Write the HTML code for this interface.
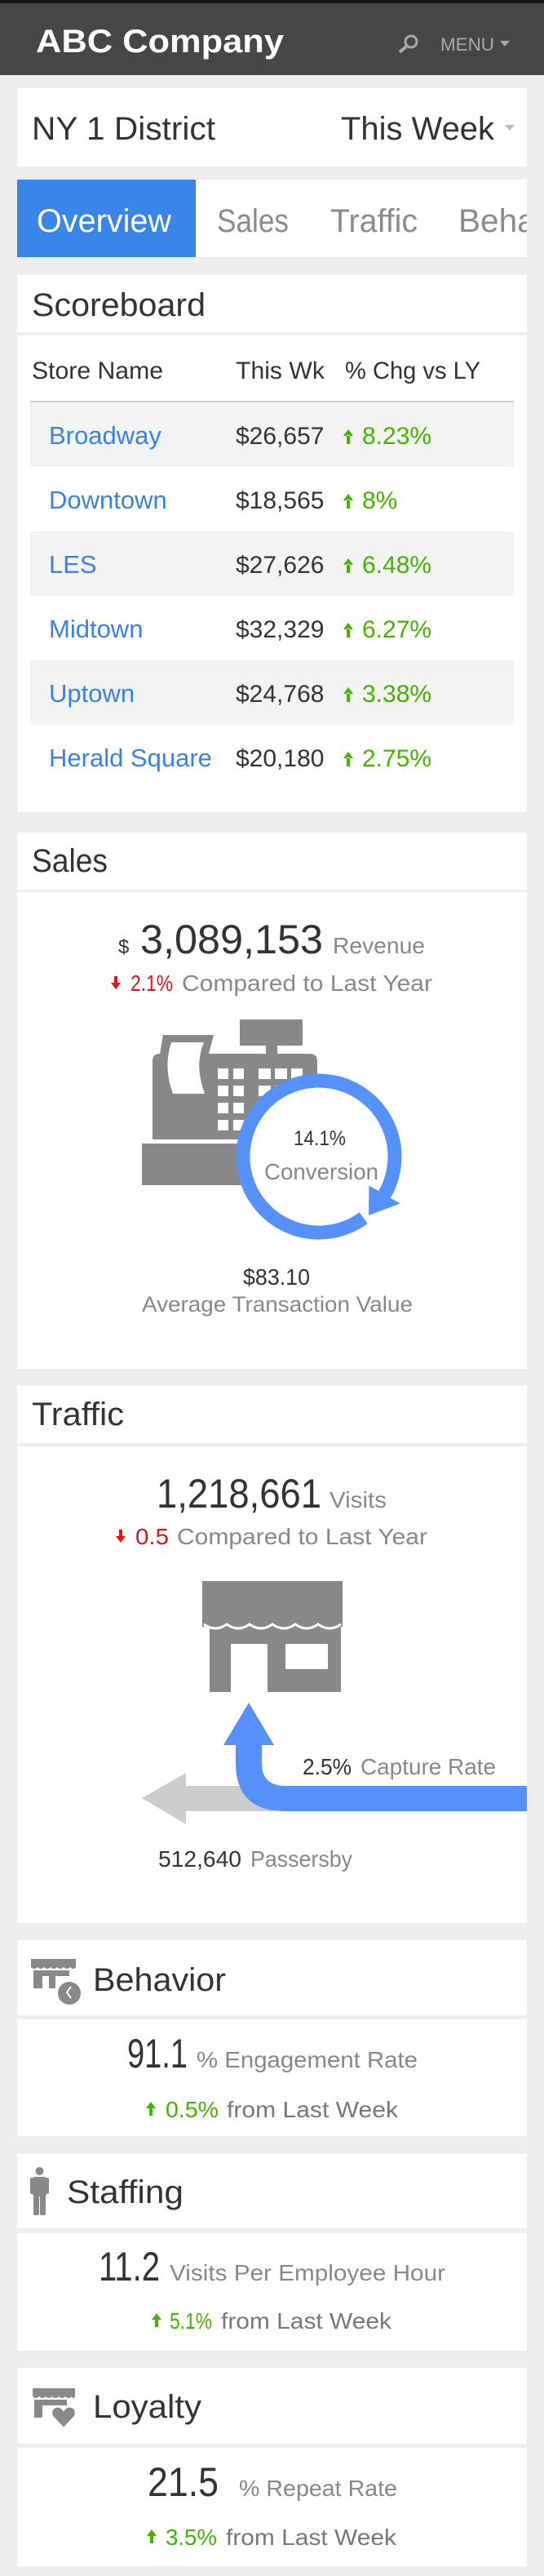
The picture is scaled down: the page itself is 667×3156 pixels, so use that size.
<!DOCTYPE html>
<html><head><meta charset="utf-8"><style>
html,body{margin:0;padding:0;background:#eeeeee;width:667px;height:3156px;overflow:hidden}
svg{display:block}
text{font-family:"Liberation Sans",sans-serif}
</style></head><body>
<svg width="667" height="3156" viewBox="0 0 667 3156" xmlns="http://www.w3.org/2000/svg">
<rect x="0" y="0" width="667" height="3156" fill="#eeeeee"/>
<g>
<rect x="0" y="0" width="667" height="92" fill="#464646"/>
<rect x="0" y="0" width="667" height="4" fill="#151515"/>
<text x="44" y="64" font-size="40" font-weight="bold" fill="#fff" textLength="304" lengthAdjust="spacingAndGlyphs">ABC Company</text>
<g><circle cx="504" cy="51" r="7" fill="none" stroke="#aaa" stroke-width="3"/><line x1="498" y1="57" x2="490" y2="64" stroke="#aaa" stroke-width="4"/></g>
<text x="540" y="62" font-size="22" fill="#aaa" textLength="66" lengthAdjust="spacingAndGlyphs">MENU</text>
<polygon points="613,50 625,50 619,57" fill="#aaa"/>
</g>
<rect x="21" y="108" width="625" height="96" fill="#fff"/>
<text x="39" y="171" font-size="40" fill="#333" textLength="225" lengthAdjust="spacingAndGlyphs">NY 1 District</text>
<text x="418" y="171" font-size="40" fill="#333" textLength="188" lengthAdjust="spacingAndGlyphs">This Week</text>
<polygon points="619,153 631,153 625,160" fill="#bbb"/>
<g>
<rect x="21" y="220" width="625" height="95" fill="#fff"/>
<rect x="21" y="220" width="219" height="95" fill="#3a85e8"/>
<text x="45" y="284" font-size="40" fill="#fff" textLength="165" lengthAdjust="spacingAndGlyphs">Overview</text>
<text x="266" y="284" font-size="40" fill="#8a8a8a" textLength="88" lengthAdjust="spacingAndGlyphs">Sales</text>
<text x="405" y="284" font-size="40" fill="#8a8a8a" textLength="107" lengthAdjust="spacingAndGlyphs">Traffic</text>
<svg x="0" y="220" width="646" height="95"><text x="562" y="64" font-size="40" fill="#8a8a8a" textLength="160" lengthAdjust="spacingAndGlyphs">Behavior</text></svg>
</g>
<rect x="21" y="337" width="625" height="70" fill="#fff"/>
<text x="39" y="387" font-size="40" fill="#333" textLength="213" lengthAdjust="spacingAndGlyphs">Scoreboard</text>
<rect x="21" y="411" width="625" height="584" fill="#fff"/>
<g>
<text x="39" y="464" font-size="30" fill="#333" textLength="161" lengthAdjust="spacingAndGlyphs">Store Name</text>
<text x="289" y="464" font-size="30" fill="#333" textLength="109" lengthAdjust="spacingAndGlyphs">This Wk</text>
<text x="423" y="464" font-size="30" fill="#333" textLength="166" lengthAdjust="spacingAndGlyphs">% Chg vs LY</text>
<rect x="37" y="491" width="593" height="2" fill="#ccc"/>
<rect x="37" y="493" width="593" height="79" fill="#f3f3f3"/>
<rect x="37" y="651" width="593" height="79" fill="#f3f3f3"/>
<rect x="37" y="809" width="593" height="79" fill="#f3f3f3"/>
<g id="rows"></g>
</g>
<rect x="21" y="1020" width="625" height="70" fill="#fff"/>
<text x="39" y="1068" font-size="40" fill="#333" textLength="93" lengthAdjust="spacingAndGlyphs">Sales</text>
<rect x="21" y="1093" width="625" height="584" fill="#fff"/>
<text x="145" y="1168" font-size="24" fill="#333">$</text>
<text x="172" y="1168" font-size="50" fill="#333" textLength="224" lengthAdjust="spacingAndGlyphs">3,089,153</text>
<text x="408" y="1168" font-size="28" fill="#888" textLength="113" lengthAdjust="spacingAndGlyphs">Revenue</text>
<g fill="#e8101a"><rect x="140" y="1196" width="4" height="10"/><polygon points="136,1204 148,1204 142,1212"/></g>
<text x="160" y="1214" font-size="28" fill="#e8101a" textLength="52" lengthAdjust="spacingAndGlyphs">2.1%</text>
<text x="223" y="1214" font-size="28" fill="#888" textLength="307" lengthAdjust="spacingAndGlyphs">Compared to Last Year</text>
<g fill="#888">
<rect x="294" y="1249" width="77" height="32"/>
<rect x="326" y="1280" width="14" height="12"/>
<path d="M200 1268 L262 1268 L256 1291 L380 1291 Q389 1291 389 1300 L389 1396 L187 1396 L187 1300 Q187 1291 196 1291 Z"/>
<path d="M210 1277 L250 1277 Q238 1305 251 1340 L212 1340 Q200 1308 210 1277 Z" fill="#fff"/>
<rect x="174" y="1401" width="220" height="51"/>
<g fill="#fff">
<rect x="267" y="1309" width="13" height="13"/><rect x="286" y="1309" width="13" height="13"/><rect x="317" y="1309" width="15" height="13"/><rect x="337" y="1309" width="15" height="13"/><rect x="357" y="1309" width="14" height="13"/>
<rect x="267" y="1330" width="13" height="13"/><rect x="286" y="1330" width="13" height="13"/><rect x="317" y="1330" width="15" height="13"/><rect x="337" y="1330" width="15" height="13"/>
<rect x="267" y="1351" width="13" height="13"/><rect x="286" y="1351" width="13" height="13"/>
<rect x="267" y="1372" width="13" height="13"/><rect x="286" y="1372" width="13" height="13"/>
</g>
</g>
<g>
<circle cx="391" cy="1417" r="93" fill="#fff"/>
<path d="M445.7 1492.2 A93 93 0 1 1 471.5 1463.5" fill="none" stroke="#5590fb" stroke-width="17"/>
<polygon points="490.6,1474.5 452.5,1452.5 452,1489" fill="#5590fb"/>
</g>
<text x="392" y="1403" font-size="25" fill="#333" text-anchor="middle" textLength="64" lengthAdjust="spacingAndGlyphs">14.1%</text>
<text x="394" y="1445" font-size="28" fill="#888" text-anchor="middle" textLength="140" lengthAdjust="spacingAndGlyphs">Conversion</text>
<text x="339" y="1574" font-size="28" fill="#333" text-anchor="middle" textLength="82" lengthAdjust="spacingAndGlyphs">$83.10</text>
<text x="340" y="1607" font-size="27" fill="#888" text-anchor="middle" textLength="332" lengthAdjust="spacingAndGlyphs">Average Transaction Value</text>
<rect x="21" y="1698" width="625" height="70" fill="#fff"/>
<text x="39" y="1746" font-size="40" fill="#333" textLength="113" lengthAdjust="spacingAndGlyphs">Traffic</text>
<rect x="21" y="1772" width="625" height="584" fill="#fff"/>
<text x="192" y="1847" font-size="50" fill="#333" textLength="202" lengthAdjust="spacingAndGlyphs">1,218,661</text>
<text x="404" y="1847" font-size="28" fill="#888" textLength="70" lengthAdjust="spacingAndGlyphs">Visits</text>
<g fill="#e8101a"><rect x="146" y="1874" width="4" height="10"/><polygon points="142,1882 154,1882 148,1890"/></g>
<text x="166" y="1892" font-size="28" fill="#e8101a" textLength="41" lengthAdjust="spacingAndGlyphs">0.5</text>
<text x="217" y="1892" font-size="28" fill="#888" textLength="307" lengthAdjust="spacingAndGlyphs">Compared to Last Year</text>
<g>
<rect x="248" y="1937" width="172" height="56" fill="#888"/>
<rect x="257" y="1993" width="161" height="80" fill="#888"/>
<path d="M250 1990 q14 10 28 0 q14 10 28 0 q14 10 28 0 q14 10 28 0 q14 10 28 0 q14 10 28 0" fill="none" stroke="#fff" stroke-width="3"/>
<rect x="283" y="2014" width="45" height="59" fill="#fff"/>
<rect x="350" y="2014" width="52" height="31" fill="#fff"/>
</g>
<g fill="#cccccc">
<polygon points="174,2203 228,2172 228,2235"/>
<rect x="227" y="2188" width="110" height="31"/>
</g>
<g fill="#5590fb">
<path d="M289 2136 L289 2160 Q289 2219 350 2219 L646 2219 L646 2188 L350 2188 Q321 2188 321 2160 L321 2136 Z"/>
<polygon points="274,2138 305,2086 336,2138"/>
</g>
<text x="371" y="2174" font-size="28" fill="#333" textLength="60" lengthAdjust="spacingAndGlyphs">2.5%</text>
<text x="442" y="2174" font-size="28" fill="#888" textLength="166" lengthAdjust="spacingAndGlyphs">Capture Rate</text>
<text x="194" y="2287" font-size="28" fill="#333" textLength="102" lengthAdjust="spacingAndGlyphs">512,640</text>
<text x="307" y="2287" font-size="28" fill="#888" textLength="125" lengthAdjust="spacingAndGlyphs">Passersby</text>
<rect x="21" y="2377" width="625" height="92" fill="#fff"/>
<g fill="#888">
<rect x="38" y="2400" width="55" height="10"/>
<path d="M38 2410 q4 4 8 0 q4 4 8 0 q4 4 8 0 q4 4 8 0 q4 4 8 0 q4 4 8 0 q4 4 7 0 Z"/>
<rect x="41" y="2414" width="11" height="22"/><rect x="41" y="2414" width="44" height="7"/><rect x="60" y="2414" width="8" height="22"/>
<circle cx="85" cy="2442" r="16" fill="#fff"/><circle cx="85" cy="2442" r="14"/>
<path d="M87 2434 L82 2441 L87 2448" stroke="#fff" stroke-width="2" fill="none"/>
</g>
<text x="114" y="2439" font-size="40" fill="#333" textLength="163" lengthAdjust="spacingAndGlyphs">Behavior</text>
<rect x="21" y="2474" width="625" height="143" fill="#fff"/>
<text x="156" y="2533" font-size="50" fill="#333" textLength="74" lengthAdjust="spacingAndGlyphs">91.1</text>
<text x="241" y="2533" font-size="28" fill="#888" textLength="271" lengthAdjust="spacingAndGlyphs">% Engagement Rate</text>
<g fill="#44b400"><rect x="183" y="2581" width="4" height="11"/><polygon points="179,2583 191,2583 185,2575"/></g>
<text x="203" y="2594" font-size="28" fill="#44b400" textLength="65" lengthAdjust="spacingAndGlyphs">0.5%</text>
<text x="278" y="2594" font-size="28" fill="#777" textLength="210" lengthAdjust="spacingAndGlyphs">from Last Week</text>
<rect x="21" y="2639" width="625" height="91" fill="#fff"/>
<g fill="#888">
<circle cx="48.5" cy="2660" r="5"/>
<rect x="40" y="2667" width="17" height="24" rx="3"/>
<rect x="37" y="2668" width="4" height="20" rx="2"/><rect x="56" y="2668" width="4" height="20" rx="2"/>
<rect x="41" y="2690" width="7" height="24" rx="2"/><rect x="49" y="2690" width="7" height="24" rx="2"/>
</g>
<text x="82" y="2699" font-size="40" fill="#333" textLength="143" lengthAdjust="spacingAndGlyphs">Staffing</text>
<rect x="21" y="2736" width="625" height="144" fill="#fff"/>
<text x="121" y="2794" font-size="50" fill="#333" textLength="75" lengthAdjust="spacingAndGlyphs">11.2</text>
<text x="208" y="2794" font-size="28" fill="#888" textLength="338" lengthAdjust="spacingAndGlyphs">Visits Per Employee Hour</text>
<g fill="#44b400"><rect x="190" y="2840" width="4" height="11"/><polygon points="186,2842 198,2842 192,2834"/></g>
<text x="208" y="2853" font-size="28" fill="#44b400" textLength="52" lengthAdjust="spacingAndGlyphs">5.1%</text>
<text x="271" y="2853" font-size="28" fill="#777" textLength="209" lengthAdjust="spacingAndGlyphs">from Last Week</text>
<rect x="21" y="2901" width="625" height="93" fill="#fff"/>
<g fill="#888">
<rect x="40" y="2926" width="52" height="10"/>
<path d="M40 2936 q4 4 8 0 q4 4 8 0 q4 4 8 0 q4 4 8 0 q4 4 8 0 q4 4 8 0 q2 4 4 0 Z"/>
<rect x="42" y="2940" width="10" height="22"/><rect x="42" y="2940" width="40" height="7"/>
<path d="M78 2953 C 72 2944, 60 2950, 64 2960 L78 2975 L92 2960 C 96 2950, 84 2944, 78 2953 Z" stroke="#fff" stroke-width="2"/>
</g>
<text x="114" y="2962" font-size="40" fill="#333" textLength="133" lengthAdjust="spacingAndGlyphs">Loyalty</text>
<rect x="21" y="2999" width="625" height="145" fill="#fff"/>
<text x="181" y="3058" font-size="50" fill="#333" textLength="87" lengthAdjust="spacingAndGlyphs">21.5</text>
<text x="293" y="3058" font-size="28" fill="#888" textLength="194" lengthAdjust="spacingAndGlyphs">% Repeat Rate</text>
<g fill="#44b400"><rect x="184" y="3105" width="4" height="11"/><polygon points="180,3107 192,3107 186,3099"/></g>
<text x="203" y="3118" font-size="28" fill="#44b400" textLength="63" lengthAdjust="spacingAndGlyphs">3.5%</text>
<text x="277" y="3118" font-size="28" fill="#777" textLength="209" lengthAdjust="spacingAndGlyphs">from Last Week</text>
</svg>
<script>
const stores = ["Broadway","Downtown","LES","Midtown","Uptown","Herald Square"];
const sales = ["$26,657","$18,565","$27,626","$32,329","$24,768","$20,180"];
const changes = ["8.23%","8%","6.48%","6.27%","3.38%","2.75%"];
const NS = "http://www.w3.org/2000/svg";
const g = document.getElementById("rows");
stores.forEach(function(s, i){
  const y = 544 + i * 79;
  const row = document.createElementNS(NS, "g");
  
  
  const a = document.createElementNS(NS, "text");
  a.setAttribute("x", 60); a.setAttribute("y", y); a.setAttribute("font-size", 31); a.setAttribute("fill", "#3b82e0");
  a.textContent = s;
  
  
  const b = document.createElementNS(NS, "text");
  b.setAttribute("x", 289); b.setAttribute("y", y); b.setAttribute("font-size", 30); b.setAttribute("fill", "#333");
  b.textContent = sales[i];
  
  
  const c = document.createElementNS(NS, "path");
  c.setAttribute("d", "M421 " + (y - 10) + " L433 " + (y - 10) + " L427 " + (y - 18) + " Z M425 " + (y - 11) + " h4 v11 h-4 Z");
  c.setAttribute("fill", "#44b400");
  
  
  const d = document.createElementNS(NS, "text");
  d.setAttribute("x", 444); d.setAttribute("y", y); d.setAttribute("font-size", 30); d.setAttribute("fill", "#44b400");
  d.textContent = changes[i];
  
  
  row.appendChild(a); row.appendChild(b); row.appendChild(c); row.appendChild(d);
  g.appendChild(row);
});
</script>
</body></html>
